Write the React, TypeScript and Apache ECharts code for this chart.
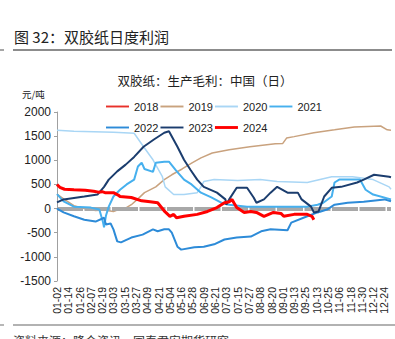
import React, { useEffect, useRef } from "react";
import * as echarts from "echarts";

// ---------- data ----------
const MONTH_DAYS = [31, 28, 31, 30, 31, 30, 31, 31, 30, 31, 30, 31];
const SKIPPED_DATES = ["01-01", "04-05", "05-01", "10-01", "10-02", "10-03", "10-04", "10-05", "10-06"];

function buildCategories(): string[] {
  const out: string[] = [];
  for (let m = 1; m <= 12; m++) {
    for (let d = 1; d <= MONTH_DAYS[m - 1]; d++) {
      const label = `${String(m).padStart(2, "0")}-${String(d).padStart(2, "0")}`;
      if (!SKIPPED_DATES.includes(label)) out.push(label);
    }
  }
  return out;
}
const categories = buildCategories();

const yearNames = ["2018", "2019", "2020", "2021", "2022", "2023", "2024"];

const data2018: [string, number][] = [];

const data2019: [string, number][] = [
  ["01-02", 300], ["01-09", 200], ["01-20", 60], ["01-31", 0], ["02-12", -40], ["02-21", -30],
  ["03-03", -60], ["03-07", -30], ["03-15", 0], ["03-22", 80], ["03-29", 200], ["04-06", 330],
  ["04-18", 450], ["04-27", 600], ["05-06", 700], ["05-17", 820], ["05-28", 950], ["06-06", 1050],
  ["06-18", 1150], ["07-06", 1220], ["07-28", 1280], ["08-24", 1340], ["09-01", 1350], ["09-05", 1460],
  ["09-13", 1490], ["10-10", 1570], ["11-01", 1630], ["11-22", 1690], ["12-20", 1710], ["12-27", 1630],
  ["12-31", 1620],
];

const data2020: [string, number][] = [
  ["01-02", 1620], ["01-20", 1600], ["02-10", 1590], ["03-03", 1580], ["03-25", 1560], ["04-04", 1280],
  ["04-15", 1010], ["04-25", 660], ["04-28", 450], ["05-08", 290], ["05-19", 290], ["06-02", 330],
  ["06-06", 450], ["06-09", 560], ["06-20", 600], ["07-15", 580], ["08-08", 600], ["08-26", 560],
  ["09-27", 540], ["10-29", 660], ["11-20", 660], ["12-12", 600], ["12-29", 450], ["12-31", 400],
];

const data2021: [string, number][] = [
  ["01-02", 300], ["01-09", 150], ["01-20", 40], ["02-07", 20], ["02-16", -20], ["02-20", -290],
  ["02-21", -390], ["02-23", -150], ["02-26", 40], ["03-03", 250], ["03-10", 390], ["03-17", 500],
  ["03-25", 600], ["03-29", 870], ["04-02", 950], ["04-06", 820], ["04-15", 760], ["04-18", 950],
  ["04-27", 970], ["05-03", 970], ["05-10", 800], ["05-19", 600], ["05-27", 500], ["06-06", 330],
  ["06-17", 230], ["06-28", 120], ["07-06", 80], ["07-25", 40], ["08-12", 40], ["08-26", 40],
  ["09-13", 40], ["09-27", 40], ["10-14", 80], ["10-20", 120], ["10-29", 250], ["11-01", 540],
  ["11-06", 600], ["11-20", 600], ["11-28", 600], ["12-04", 390], ["12-12", 290], ["12-31", 190],
];

const data2022: [string, number][] = [
  ["01-02", 0], ["01-09", -80], ["01-20", -160], ["01-31", -230], ["02-12", -270], ["02-21", -190],
  ["02-23", -330], ["02-28", -310], ["03-03", -430], ["03-07", -680], ["03-11", -700], ["03-22", -600],
  ["04-03", -540], ["04-15", -430], ["04-20", -470], ["04-27", -430], ["05-03", -430], ["05-06", -500],
  ["05-12", -790], ["05-16", -850], ["05-30", -800], ["06-09", -790], ["06-20", -740], ["07-01", -640],
  ["07-14", -600], ["07-29", -580], ["08-09", -470], ["08-19", -430], ["09-06", -450], ["09-10", -290],
  ["09-27", -160], ["10-14", -80], ["10-24", -20], ["11-01", 80], ["11-15", 120], ["12-02", 140],
  ["12-24", 190], ["12-31", 150],
];

const data2023: [string, number][] = [
  ["01-02", 130], ["01-09", 190], ["01-31", 250], ["02-14", 290], ["02-21", 450], ["02-26", 600],
  ["03-07", 770], ["03-16", 910], ["03-25", 1070], ["04-04", 1280], ["04-16", 1430], ["04-27", 1570],
  ["05-03", 1600], ["05-12", 1280], ["05-19", 1010], ["05-26", 800], ["06-02", 600], ["06-09", 450],
  ["06-23", 330], ["07-02", 190], ["07-03", 80], ["07-06", 190], ["07-14", 430], ["07-25", 430],
  ["08-01", 230], ["08-04", 120], ["08-12", 190], ["08-19", 330], ["08-26", 450], ["09-06", 330],
  ["09-17", 330], ["09-21", 190], ["10-07", 40], ["10-10", -80], ["10-15", -60], ["10-21", 250],
  ["10-29", 430], ["11-08", 450], ["11-25", 540], ["12-02", 600], ["12-13", 700], ["12-29", 660],
  ["12-31", 650],
];

const data2024: [string, number][] = [
  ["01-02", 500], ["01-05", 440], ["01-10", 400], ["01-20", 390], ["02-01", 380], ["02-10", 360],
  ["02-15", 340], ["02-19", 350], ["02-22", 330], ["03-03", 330], ["03-08", 280], ["03-10", 250],
  ["03-22", 230], ["04-02", 160], ["04-12", 140], ["04-20", 120], ["04-28", -70], ["05-04", -160],
  ["05-08", -120], ["05-11", -190], ["05-19", -160], ["06-02", -120], ["06-13", -60], ["06-23", 20],
  ["07-01", 120], ["07-06", 140], ["07-09", 190], ["07-11", 120], ["07-14", 20], ["07-22", -80],
  ["07-29", -60], ["08-04", -80], ["08-12", -160], ["08-22", -80], ["08-30", -100], ["09-02", -160],
  ["09-13", -120], ["09-27", -120], ["10-08", -160], ["10-10", -230],
];

const yTicks = { min: -1500, max: 2000, interval: 500 };

const yearData = [data2018, data2019, data2020, data2021, data2022, data2023, data2024];
const yearColors = ["#E8312A", "#C9A27E", "#A9D6F5", "#46B0EE", "#2D8BD8", "#1B3D6E", "#FF0000"];
const yearWidths = [1.5, 1.5, 1.5, 2, 2, 2, 3];

const TITLE = "图 32：双胶纸日度利润";
const SUBTITLE = "双胶纸：生产毛利：中国（日）";
const UNIT = "元/吨";
const SOURCE = "资料来源：隆众资讯，国泰君安期货研究";

const NUM_FONT = "Liberation Sans, Arial, sans-serif";
const CJK_FONT = "Noto Sans CJK SC, sans-serif";

export default function App() {
  const ref = useRef<HTMLDivElement>(null);

  useEffect(() => {
    const chart = echarts.init(ref.current!, null, { renderer: "svg" });

    const lineSeries = yearNames.map((name, i) => ({
      name,
      type: "line",
      data: yearData[i],
      symbol: "none",
      showSymbol: false,
      z: 3 + i,
      lineStyle: { color: yearColors[i], width: yearWidths[i] },
      itemStyle: { color: yearColors[i] },
    }));

    const legendItem = (name: string, i: number) => {
      const h = i === 6 ? 3 : 2;
      return { name, icon: `path://M0 0H24V${h}H0Z` };
    };

    const legendCommon = {
      left: 106,
      padding: 0,
      itemWidth: 23,
      itemHeight: 14,
      itemGap: 2,
      symbolKeepAspect: true,
      textStyle: { fontSize: 11, color: "#222", fontFamily: NUM_FONT },
    };

    chart.setOption({
      animation: false,
      backgroundColor: "#ffffff",
      grid: { left: 57, right: 4, top: 112, bottom: 58 },
      legend: [
        { ...legendCommon, top: 101, data: yearNames.slice(0, 4).map((n, i) => legendItem(n, i)) },
        { ...legendCommon, top: 122, data: yearNames.slice(4).map((n, i) => legendItem(n, i + 4)) },
      ],
      xAxis: {
        type: "category",
        data: categories,
        boundaryGap: false,
        axisLine: { show: false, onZero: false },
        axisTick: { show: false },
        axisLabel: {
          interval: 11,
          rotate: 90,
          fontSize: 10.5,
          color: "#222",
          fontFamily: NUM_FONT,
          margin: 6,
        },
        splitLine: { show: false },
      },
      yAxis: {
        type: "value",
        min: yTicks.min,
        max: yTicks.max,
        interval: yTicks.interval,
        axisLine: { show: true, lineStyle: { color: "#A0A0A0", width: 1 } },
        axisTick: { show: true, length: 3, lineStyle: { color: "#A0A0A0" } },
        axisLabel: {
          fontSize: 12,
          color: "#222",
          fontFamily: NUM_FONT,
          margin: 6,
          formatter: (v: number) => String(v),
        },
        splitLine: { show: false },
      },
      series: [
        {
          name: "zero",
          type: "line",
          data: [],
          z: 1,
          silent: true,
          markLine: {
            silent: true,
            symbol: ["none", "none"],
            label: { show: false },
            lineStyle: { color: "#A8A8A8", width: 4, type: [26, 1.5] },
            data: [{ yAxis: 0 }],
          },
        },
        ...lineSeries,
      ],
      graphic: [
        {
          type: "text",
          x: 14,
          y: 36,
          style: { text: TITLE, fontSize: 15, fill: "#222", fontFamily: CJK_FONT, verticalAlign: "middle" },
        },
        { type: "line", shape: { x1: 13, y1: 50, x2: 392, y2: 50 }, style: { stroke: "#666", lineWidth: 1.5 } },
        { type: "line", shape: { x1: 0, y1: 50, x2: 4, y2: 50 }, style: { stroke: "#888", lineWidth: 1.5 } },
        {
          type: "text",
          x: 205,
          y: 80,
          style: { text: SUBTITLE, fontSize: 12.5, fill: "#222", fontFamily: CJK_FONT, align: "center", verticalAlign: "middle" },
        },
        {
          type: "text",
          x: 22,
          y: 94,
          style: { text: UNIT, fontSize: 9.5, fill: "#222", fontFamily: CJK_FONT, verticalAlign: "middle" },
        },
        { type: "line", shape: { x1: 13, y1: 325, x2: 395, y2: 325 }, style: { stroke: "#666", lineWidth: 1.2 } },
        { type: "line", shape: { x1: 0, y1: 325, x2: 4, y2: 325 }, style: { stroke: "#888", lineWidth: 1.2 } },
        {
          type: "text",
          x: 13,
          y: 340,
          style: { text: SOURCE, fontSize: 12, fill: "#333", fontFamily: CJK_FONT, verticalAlign: "middle" },
        },
      ],
    });

    return () => chart.dispose();
  }, []);

  return (
    <div
      ref={ref}
      style={{ position: "absolute", left: 0, top: 0, width: 395, height: 339 }}
    />
  );
}
